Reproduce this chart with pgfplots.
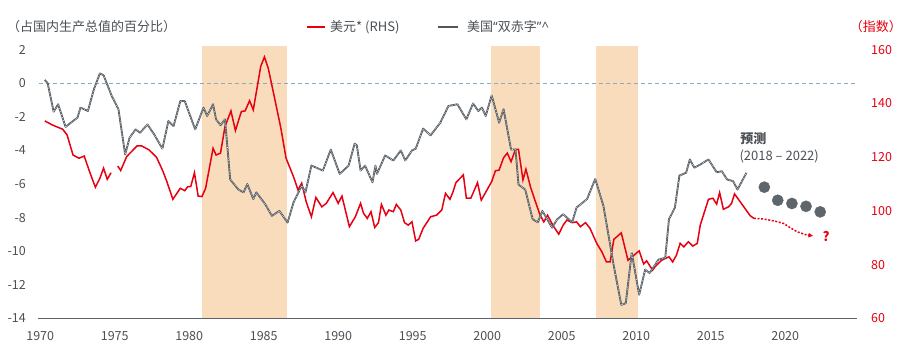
\documentclass[border=0pt]{standalone}
\usepackage{fontspec}
\setmainfont{Noto Sans CJK SC}
\newfontfamily\latinfont{Noto Sans}
\usepackage{pgfplots}
\usepackage{pgfplotstable}
\pgfplotsset{compat=1.18}
\usetikzlibrary{arrows.meta}
\definecolor{myred}{RGB}{230,0,18}
\definecolor{mygray}{RGB}{78,87,93}
\definecolor{dotgray}{RGB}{95,102,107}
\definecolor{peach}{RGB}{248,220,188}
\definecolor{zeroc}{RGB}{140,172,190}
\definecolor{txtgray}{RGB}{75,80,85}
\definecolor{axgray}{RGB}{90,100,106}

\pgfplotstableread{
x y
1970.3 0.2
1970.5 0.0
1970.9 -1.7
1971.2 -1.25
1971.7 -2.6
1972.2 -2.25
1972.5 -2.05
1972.7 -1.45
1973.2 -1.65
1973.6 -0.36
1974.0 0.58
1974.25 0.48
1974.8 -0.76
1975.25 -1.55
1975.7 -4.24
1976.0 -3.24
1976.4 -2.75
1976.7 -2.95
1977.2 -2.45
1977.65 -3.05
1978.2 -3.9
1978.6 -2.25
1978.95 -2.55
1979.4 -1.06
1979.7 -1.06
1980.4 -2.75
1980.96 -1.45
1981.2 -1.95
1981.6 -1.25
1981.8 -2.15
1982.1 -2.5
1982.4 -2.15
1982.75 -5.73
1983.3 -6.33
1983.65 -6.5
1983.9 -6.0
1984.3 -6.9
1984.5 -6.5
1985.1 -7.2
1985.55 -7.9
1986.05 -7.6
1986.6 -8.3
1987.0 -7.1
1987.55 -6.1
1987.8 -6.5
1988.2 -4.9
1988.97 -5.2
1989.5 -3.95
1990.1 -5.4
1990.7 -4.9
1991.1 -3.6
1991.25 -3.7
1991.5 -5.2
1991.8 -4.9
1992.3 -5.9
1992.5 -4.9
1992.6 -5.4
1993.15 -4.3
1993.7 -4.6
1994.2 -4.0
1994.5 -4.6
1994.95 -4.0
1995.2 -3.9
1995.7 -2.7
1996.2 -3.1
1996.85 -2.35
1997.4 -1.35
1998.0 -1.25
1998.6 -2.15
1999.05 -1.2
1999.4 -1.65
1999.65 -1.45
1999.9 -1.95
2000.3 -0.72
2000.8 -2.35
2001.1 -1.55
2001.6 -3.95
2001.9 -3.95
2002.1 -6.03
2002.55 -6.33
2003.05 -8.1
2003.4 -8.28
2003.7 -7.6
2004.35 -8.6
2004.7 -8.1
2005.1 -7.8
2005.7 -8.28
2006.0 -7.4
2006.7 -6.9
2007.25 -5.7
2007.8 -7.3
2008.5 -10.9
2009.0 -13.2
2009.3 -13.1
2009.7 -10.1
2010.2 -12.6
2010.6 -11.1
2010.9 -11.3
2011.5 -10.5
2011.95 -10.4
2012.2 -8.1
2012.6 -7.4
2012.9 -5.5
2013.35 -5.33
2013.6 -4.54
2013.9 -5.03
2014.3 -4.84
2014.85 -4.54
2015.4 -5.3
2015.75 -5.24
2016.1 -5.73
2016.5 -5.83
2016.8 -6.33
2017.1 -5.83
2017.4 -5.33
}\deficit

\pgfplotstableread{
x y
1970.3 133.5
1970.8 132.0
1971.5 130.4
1971.8 128.3
1972.2 120.8
1972.6 119.6
1972.95 120.4
1973.35 114.0
1973.7 108.8
1974.0 112.1
1974.25 115.9
1974.5 111.75
1974.75 114.2
}\usdA

\pgfplotstableread{
x y
1975.2 116.7
1975.4 115.0
1975.8 120.2
1976.5 124.2
1976.8 124.2
1977.3 122.7
1977.8 120.0
1978.2 115.2
1978.5 110.9
1978.9 104.3
1979.4 108.4
1979.7 107.5
1979.9 109.0
1980.1 109.0
1980.35 114.2
1980.6 105.5
1980.85 105.3
1981.1 108.4
1981.6 123.3
1981.8 120.8
1982.1 121.5
1982.4 131.4
1982.8 137.2
1983.1 129.9
1983.5 137.0
1983.75 137.2
1984.05 141.0
1984.3 137.6
1984.8 153.8
1985.05 157.3
1985.3 153.2
1985.8 140.1
1986.15 130.8
1986.5 119.6
1987.0 112.7
1987.3 107.8
1987.55 110.3
1987.85 103.4
1988.2 97.8
1988.5 105.0
1988.9 101.5
1989.2 102.8
1989.65 106.8
1990.0 102.8
1990.25 105.5
1990.75 94.1
1991.15 97.8
1991.5 102.8
1991.7 99.1
1991.95 97.2
1992.2 99.7
1992.45 93.8
1992.7 95.6
1992.9 102.4
1993.2 98.4
1993.4 100.3
1993.7 99.7
1993.9 102.4
1994.2 100.3
1994.45 95.6
1994.7 94.7
1994.95 95.9
1995.2 88.8
1995.4 89.4
1995.7 93.5
1996.2 97.8
1996.6 98.4
1996.95 100.3
1997.2 106.5
1997.5 104.3
1997.7 107.0
1997.9 110.5
1998.4 113.4
1998.6 104.7
1998.9 104.7
1999.35 110.5
1999.6 104.0
2000.3 110.9
2000.55 114.9
2000.8 115.2
2001.1 119.8
2001.35 121.5
2001.6 118.3
2001.9 122.9
2002.1 122.9
2002.4 111.5
2002.6 115.5
2002.9 109.0
2003.2 104.0
2003.55 98.4
2003.8 95.9
2004.05 98.4
2004.4 94.7
2004.8 91.3
2005.1 94.7
2005.35 96.6
2005.7 95.6
2006.0 95.9
2006.25 94.1
2006.6 95.6
2006.9 93.5
2007.35 87.9
2007.7 84.7
2008.0 81.0
2008.25 81.0
2008.5 89.4
2009.0 91.8
2009.45 81.6
2009.85 83.5
2010.2 85.1
2010.5 80.2
2010.7 81.4
2011.1 77.9
2011.25 79.1
2011.7 81.6
2012.2 82.9
2012.45 81.0
2012.7 83.5
2012.95 87.9
2013.2 86.6
2013.5 88.5
2013.8 86.9
2014.1 87.9
2014.3 94.7
2014.85 104.3
2015.15 104.7
2015.4 102.5
2015.6 106.8
2015.85 100.6
2016.2 101.5
2016.4 102.8
2016.6 106.3
2016.9 104.0
2017.3 100.9
2017.65 98.2
2017.9 97.2
}\usdB

\pgfplotstableread{
x y
2017.9 97.2
2018.5 97.0
2019.3 96.2
2019.9 95.3
2020.4 93.5
2020.8 92.2
2021.45 91.0
2021.9 90.7
}\usdF

\pgfplotstableread{
x y
2018.6 -6.19
2019.5 -6.97
2020.45 -7.16
2021.4 -7.33
2022.35 -7.66
}\defF

\begin{document}
\begin{tikzpicture}[font=\fontsize{13bp}{15bp}\selectfont]
\useasboundingbox (0,0) rectangle (904bp,360bp);
\pgfplotsset{
  base/.style={
    at={(38.3bp,41.7bp)}, anchor=south west, scale only axis,
    width=818.4bp, height=272.3bp,
    xmin=1969.87, xmax=2024.8,
    axis line style={draw=none},
    major tick length=0pt, tick style={draw=none},
    clip=false,
    /pgf/number format/assume math mode=true,
    /pgf/number format/1000 sep={},
    tick label style={font=\fontsize{12.5bp}{14bp}\selectfont},
  }
}
% axis A: background, ticks
\begin{axis}[base,
  ymin=-14, ymax=2.22,
  ytick={-14,-12,...,2},
  xtick={1970,1975,...,2020},
  yticklabel style={anchor=east, inner sep=0pt, xshift=-12.3bp, text=txtgray},
  xticklabel style={anchor=center, inner sep=0pt, yshift=-17.7bp, text=txtgray},
]
\addplot[fill=peach, draw=none] coordinates {(1980.87,-14) (1986.58,-14) (1986.58,2.22) (1980.87,2.22)} -- cycle;
\addplot[fill=peach, draw=none] coordinates {(2000.27,-14) (2003.56,-14) (2003.56,2.22) (2000.27,2.22)} -- cycle;
\addplot[fill=peach, draw=none] coordinates {(2007.32,-14) (2010.13,-14) (2010.13,2.22) (2007.32,2.22)} -- cycle;
\addplot[zeroc, line width=1.1bp, dash pattern=on 4bp off 3bp] coordinates {(1969.9,0) (2024.8,0)};
\addplot[axgray, line width=1.3bp] coordinates {(1969.87,-14) (2024.8,-14)};
\end{axis}
% axis B: dollar, right scale
\begin{axis}[base,
  ymin=60, ymax=161.375,
  ytick={60,80,...,160},
  xtick=\empty,
  axis y line*=right,
  yticklabel style={anchor=west, inner sep=0pt, xshift=14.3bp, text=myred},
]
\addplot[myred, line width=1.5bp] table {\usdA};
\addplot[myred, line width=1.5bp] table {\usdB};
\addplot[myred, line width=1.5bp, dash pattern=on 2bp off 1.6bp, -{Latex[length=5bp,width=5bp]}] table {\usdF};
\node[text=myred, font=\fontsize{13bp}{15bp}\selectfont\bfseries, anchor=center] at (axis cs:2022.75,90.5) {?};
\end{axis}
% axis C: deficit, left scale
\begin{axis}[base,
  ymin=-14, ymax=2.22,
  xtick=\empty, ytick=\empty,
]
\addplot[mygray, line width=1.8bp, line join=round] table {\deficit};
\addplot[white, opacity=0.85, line width=0.7bp, dash pattern=on 0.6bp off 1.0bp] table {\deficit};
\addplot[only marks, mark=*, mark size=5.6bp, dotgray, mark options={draw=dotgray, fill=dotgray}] table {\defF};
\node[anchor=west, text=txtgray, font=\fontsize{13bp}{15bp}\selectfont\bfseries] at (axis cs:2016.75,-3.3) {预测};
\node[anchor=west, text=txtgray] at (axis cs:2016.7,-4.33) {(2018 – 2022)};
\end{axis}
% titles and legend
\node[anchor=west, text=txtgray, inner sep=0pt] at (7bp,333bp) {（占国内生产总值的百分比）};
\node[anchor=east, text=myred, inner sep=0pt] at (902bp,333bp) {（指数）};
\draw[myred, line width=1.8bp] (307bp,333bp) -- (325bp,333bp);
\node[anchor=west, text=txtgray, inner sep=0pt] at (330bp,333bp) {美元* (RHS)};
\draw[mygray, line width=1.8bp] (438bp,333bp) -- (458bp,333bp);
\node[anchor=west, text=txtgray, inner sep=0pt] at (467bp,333bp) {美国{\latinfont “}双赤字{\latinfont ”\^{}}};
\end{tikzpicture}
\end{document}
